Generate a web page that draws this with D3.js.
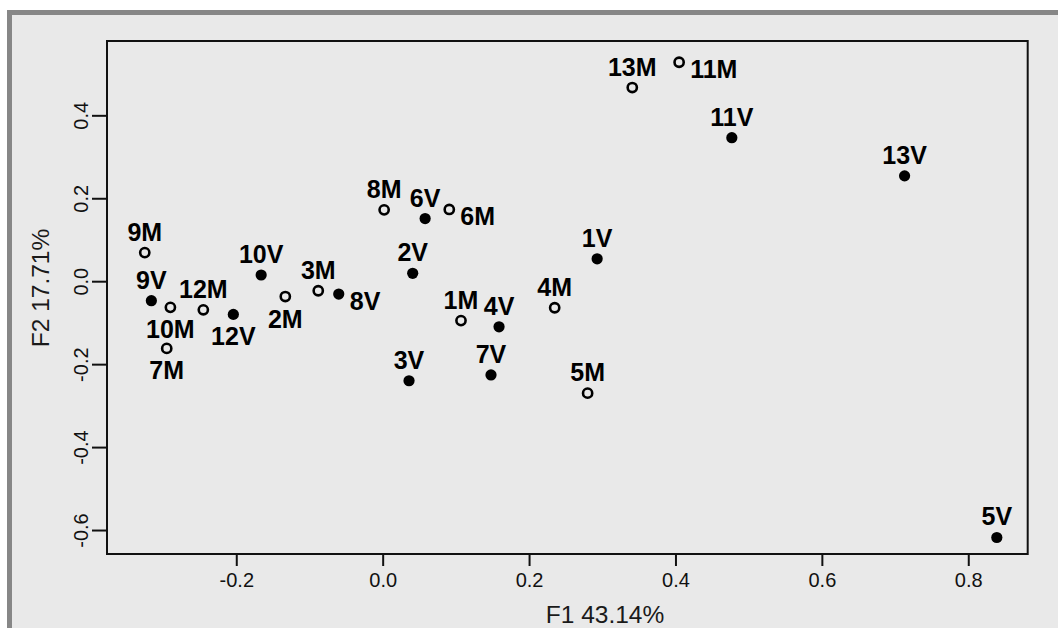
<!DOCTYPE html>
<html>
<head>
<meta charset="utf-8">
<script src="https://cdn.jsdelivr.net/npm/d3@7"></script>
<style>
  html, body { margin: 0; padding: 0; background: #ffffff; }
  svg { display: block; }
  text { font-family: "Liberation Sans", Arial, Helvetica, sans-serif; }
</style>
</head>
<body>
<svg id="chart" width="1058" height="628"></svg>
<script>
// Filled points (V) and open points (M): factor coordinates on F1 / F2
const vLabels = ["1V","2V","3V","4V","5V","6V","7V","8V","9V","10V","11V","12V","13V"];
const vF1 = [0.293, 0.041, 0.036, 0.159, 0.839, 0.058, 0.148, -0.060, -0.316, -0.166, 0.477, -0.204, 0.713];
const vF2 = [0.054, 0.019, -0.240, -0.110, -0.618, 0.151, -0.226, -0.031, -0.047, 0.015, 0.346, -0.080, 0.254];
const vPlace = ["top","top","top","top","top","top","top","right","top","top","top","bottom","top"];

const mLabels = ["1M","2M","3M","4M","5M","6M","7M","8M","9M","10M","11M","12M","13M"];
const mF1 = [0.107, -0.133, -0.088, 0.235, 0.280, 0.091, -0.295, 0.002, -0.325, -0.290, 0.405, -0.245, 0.341];
const mF2 = [-0.095, -0.037, -0.023, -0.064, -0.270, 0.173, -0.162, 0.172, 0.069, -0.063, 0.528, -0.069, 0.467];
const mPlace = ["top","bottom","top","top","top","right","bottom","top","top","bottom","right","top","top"];

const xTicks = [-0.2, 0.0, 0.2, 0.4, 0.6, 0.8];
const xTickLabels = ["-0.2", "0.0", "0.2", "0.4", "0.6", "0.8"];
const yTicks = [-0.6, -0.4, -0.2, 0.0, 0.2, 0.4];
const yTickLabels = ["-0.6", "-0.4", "-0.2", "0.0", "0.2", "0.4"];
const xTitle = "F1 43.14%";
const yTitle = "F2 17.71%";

const svg = d3.select("#chart");

// panel frame
svg.append("rect")
  .attr("x", 9.5).attr("y", 12.5)
  .attr("width", 1100).attr("height", 700)
  .attr("fill", "#e9e9e9")
  .attr("stroke", "#878787")
  .attr("stroke-width", 5);

const box = { left: 107, right: 1027.7, top: 41, bottom: 554 };

const x = d3.scaleLinear().domain([-0.3766, 0.8812]).range([box.left, box.right]);
const y = d3.scaleLinear().domain([-0.6578, 0.5792]).range([box.bottom, box.top]);

// plot box
svg.append("rect")
  .attr("x", box.left).attr("y", box.top)
  .attr("width", box.right - box.left).attr("height", box.bottom - box.top)
  .attr("fill", "none").attr("stroke", "#111").attr("stroke-width", 2);

// x axis
const xAxis = d3.axisBottom(x)
  .tickValues(xTicks)
  .tickFormat((d, i) => xTickLabels[i])
  .tickSize(12).tickSizeOuter(0).tickPadding(8);
const gx = svg.append("g").attr("transform", `translate(0,${box.bottom})`).call(xAxis);
gx.select(".domain").remove();
gx.selectAll(".tick line").attr("stroke", "#111").attr("stroke-width", 2);
gx.selectAll(".tick text")
  .attr("font-size", 20).attr("fill", "#111")
  .attr("font-family", "Liberation Sans, Arial, sans-serif")
  .attr("dy", null).attr("y", 33);

// y axis
const yAxis = d3.axisLeft(y)
  .tickValues(yTicks)
  .tickFormat((d, i) => yTickLabels[i])
  .tickSize(15).tickSizeOuter(0);
const gy = svg.append("g").attr("transform", `translate(${box.left},0)`).call(yAxis);
gy.select(".domain").remove();
gy.selectAll(".tick line").attr("stroke", "#111").attr("stroke-width", 2);
gy.selectAll(".tick text")
  .attr("font-size", 20).attr("fill", "#111")
  .attr("font-family", "Liberation Sans, Arial, sans-serif")
  .attr("x", null).attr("dy", null)
  .attr("text-anchor", "middle")
  .attr("transform", "translate(-19,0) rotate(-90)");

// axis titles
svg.append("text")
  .attr("x", 605).attr("y", 623)
  .attr("text-anchor", "middle")
  .attr("font-size", 24.5).attr("fill", "#1a1a1a")
  .text(xTitle);
svg.append("text")
  .attr("transform", "translate(49,288) rotate(-90)")
  .attr("text-anchor", "middle")
  .attr("font-size", 24.5).attr("fill", "#1a1a1a")
  .text(yTitle);

// point records
const vPts = vLabels.map((l, i) => ({ label: l, f1: vF1[i], f2: vF2[i], place: vPlace[i], filled: true }));
const mPts = mLabels.map((l, i) => ({ label: l, f1: mF1[i], f2: mF2[i], place: mPlace[i], filled: false }));
const pts = vPts.concat(mPts);

const gp = svg.append("g");
gp.selectAll("circle.pt")
  .data(pts)
  .join("circle")
  .attr("class", "pt")
  .attr("cx", d => x(d.f1))
  .attr("cy", d => y(d.f2))
  .attr("r", d => d.filled ? 5.6 : 4.6)
  .attr("fill", d => d.filled ? "#000" : "none")
  .attr("stroke", d => d.filled ? "none" : "#000")
  .attr("stroke-width", 2.6);

// point labels
const placeOffset = {
  top:    { dx: 0,  dy: -12, anchor: "middle" },
  bottom: { dx: 0,  dy: 31,  anchor: "middle" },
  right:  { dx: 11, dy: 16,  anchor: "start" }
};
gp.selectAll("text.lab")
  .data(pts)
  .join("text")
  .attr("class", "lab")
  .attr("x", d => x(d.f1) + placeOffset[d.place].dx)
  .attr("y", d => y(d.f2) + placeOffset[d.place].dy)
  .attr("text-anchor", d => placeOffset[d.place].anchor)
  .attr("font-size", 25)
  .attr("font-weight", "bold")
  .attr("fill", "#000")
  .text(d => d.label);
</script>
</body>
</html>
